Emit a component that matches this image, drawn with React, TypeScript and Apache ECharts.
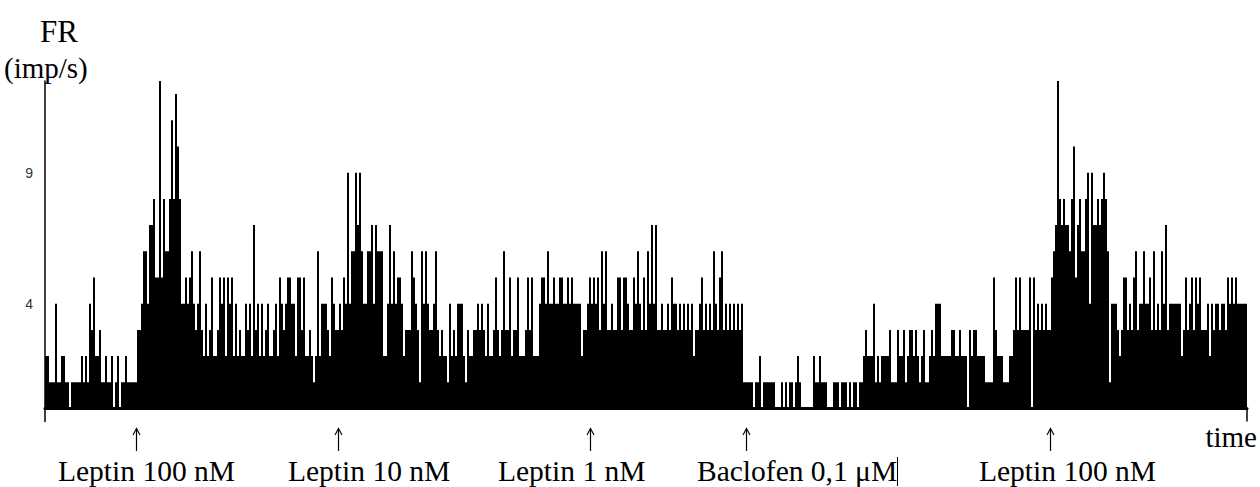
import React, { useEffect, useRef } from "react";
import * as echarts from "echarts";

// Firing rate (imp/s) per time bin, epoch by epoch.
const baseline = [
  2, 2, 1, 1, 1, 4, 1, 1, 2, 2,
  1, 1, 0, 1, 1, 1, 1, 1, 2, 1,
  2, 1, 4, 3, 5, 2, 2, 3, 1, 1,
  2, 1, 1, 2, 0, 1, 2, 0, 1, 1,
  2, 1, 1, 1, 1, 1,
];
const leptin100Peak = [
  3, 3, 4, 6, 6, 4, 7, 7, 8, 5,
  5, 12.5, 5, 8, 6, 6, 8, 11, 8, 12,
  10, 8, 4, 4, 5, 4, 5,
];
const leptin100Plateau = [
  6, 4, 3, 4, 6, 3, 2, 4, 2, 3,
  5, 2, 2, 3, 5, 4, 5, 2, 5, 4,
  5, 2, 4, 2, 3, 2, 2, 4, 3, 4,
  2, 7, 3, 4, 2, 4, 2, 3, 4, 2,
  2, 3, 4, 2, 5, 4, 3, 4, 5, 5,
  4, 4, 2, 5, 5, 3, 5, 2, 2, 3,
  2, 1, 2, 6, 2, 4, 4, 4, 3, 2,
];
const leptin10 = [
  5, 4, 3, 3, 4, 3, 5, 4, 9, 4,
  6, 6, 9, 7, 9, 6, 4, 4, 6, 6,
  7, 4, 7, 6, 6, 6, 2, 2, 4, 7,
  4, 6, 4, 5, 5, 4, 2, 3, 3, 3,
  6, 5, 4, 3, 1,
];
const leptin1 = [
  6, 4, 6, 4, 3, 3, 4, 6, 3, 2,
  3, 2, 2, 1, 4, 2, 3, 2, 4, 4,
  4, 2, 1, 3, 2, 2, 3, 3, 4, 3,
  4, 3, 2, 4, 2, 2, 3, 5, 3, 2,
  3, 6, 3, 3, 5, 2, 3, 3, 5, 2,
  2, 2, 3, 5, 3, 5, 2, 2, 2, 4,
  5, 5, 4, 6, 4, 4, 5, 4, 4, 5,
  5, 4, 4, 5, 4, 5, 4, 4, 4, 4,
  2, 3, 3, 4, 5, 4, 5, 4, 5, 3,
  6, 4, 6, 3, 3, 4, 3, 3, 5, 5,
  3, 5, 5, 4, 3, 3, 5, 4, 6, 4,
  3, 5, 3, 6, 4, 7, 4, 7, 3, 3,
  4, 3, 3, 4, 3, 5, 4, 4, 3, 4,
  3, 4, 3, 4, 3, 4, 2, 3, 3, 4,
  5, 3, 4, 3, 4, 3, 6, 4, 3, 5,
  6, 3, 4, 3, 4, 3, 4, 3, 4, 3,
  4, 1,
];
const baclofen = [
  1, 1, 1, 1, 0, 1, 1, 2, 0, 1,
  1, 1, 1, 1, 1, 0, 0, 0, 1, 0,
  1, 0, 1, 1, 0, 1, 2, 1, 0, 0,
  0, 0, 0, 0, 2, 1, 1, 2, 1, 1,
  1, 0, 0, 0, 1, 1, 1, 0, 1, 1,
  1, 0, 1, 0, 1, 1, 0, 1, 1,
];
const recovery = [
  2, 3, 2, 2, 2, 4, 1, 2, 1, 2,
  2, 2, 2, 3, 1, 1, 1, 3, 2, 2,
  3, 1, 2, 3, 3, 2, 3, 2, 1, 2,
  3, 1, 1, 2, 3, 2, 4, 4, 4, 2,
  2, 2, 2, 2, 3, 3, 2, 2, 3, 2,
  2, 2, 0, 3, 2, 3, 3, 2, 2, 2,
  2, 1, 1, 1, 1, 5, 3, 2, 2, 2,
  1, 1, 1, 2, 2, 3, 5, 3, 5, 3,
  3, 3, 3, 5, 0, 5, 3, 4, 3, 4,
  3, 4, 3, 3, 5,
];
const leptin100bPeak = [
  6, 7, 12.5, 8, 7, 8, 7, 7, 6, 8,
  10, 5, 7, 8, 6, 6, 8, 9, 4, 9,
  7, 7, 8, 7, 8, 9, 8, 6,
];
const leptin100bPlateau = [
  1, 4, 4, 4, 3, 2, 3, 5, 5, 3,
  4, 3, 5, 6, 3, 4, 4, 6, 4, 4,
  5, 3, 6, 3, 4, 3, 6, 4, 7, 3,
  4, 4, 4, 4, 4, 4, 2, 3, 5, 3,
  4, 5, 3, 5, 4, 5, 3, 3, 3, 4,
  2, 4, 3, 4, 4, 3, 4, 4, 3, 5,
  4, 5, 4, 5, 4, 4, 4, 4, 4,
];

const rates = [
  ...baseline,
  ...leptin100Peak,
  ...leptin100Plateau,
  ...leptin10,
  ...leptin1,
  ...baclofen,
  ...recovery,
  ...leptin100bPeak,
  ...leptin100bPlateau,
];
const bins = rates.map((_, i) => String(i));

const yTickLabels = [4, 9];

// Drug applications: name and time bin of the arrow
const events = [
  { name: "Leptin 100 nM", bin: 45 },
  { name: "Leptin 10 nM", bin: 146 },
  { name: "Leptin 1 nM", bin: 272 },
  { name: "Baclofen 0,1 μM", bin: 350 },
  { name: "Leptin 100 nM", bin: 502 },
];
// horizontal offset of each label's left edge from its arrow (layout only)
const labelOffsets = [-78, -50, -92, -49, -71];

const SERIF = '"Liberation Serif", "Times New Roman", serif';

export default function App() {
  const ref = useRef<HTMLDivElement>(null);

  useEffect(() => {
    if (!ref.current) return;
    const chart = echarts.init(ref.current, null, { renderer: "svg" });
    chart.setOption({
      animation: false,
      backgroundColor: "#ffffff",
      grid: { left: 45, right: 13, top: 81, bottom: 65.4, containLabel: false },
      xAxis: {
        type: "category",
        data: bins,
        boundaryGap: true,
        axisLine: { show: true, onZero: true, lineStyle: { color: "#000", width: 3 } },
        axisTick: { show: false },
        axisLabel: { show: false },
        splitLine: { show: false },
      },
      yAxis: {
        type: "value",
        min: -0.5,
        max: 12.5,
        interval: 0.5,
        axisLine: { show: true, lineStyle: { color: "#000", width: 1.5 } },
        axisTick: { show: false },
        splitLine: { show: false },
        axisLabel: {
          margin: 12,
          color: "#333",
          fontSize: 14,
          fontFamily: '"Liberation Sans", Arial, sans-serif',
          formatter: (v: number) => (yTickLabels.includes(v) ? String(v) : ""),
        },
      },
      series: [
        {
          type: "bar",
          data: rates,
          barCategoryGap: "0%",
          barGap: "0%",
          itemStyle: { color: "#000" },
          silent: true,
        },
      ],
    });

    const xs = events.map((e) => chart.convertToPixel({ xAxisIndex: 0 }, e.bin) as number);
    const zeroY = chart.convertToPixel({ yAxisIndex: 0 }, 0) as number;
    const bottomY = chart.convertToPixel({ yAxisIndex: 0 }, -0.5) as number;
    const lastX = chart.convertToPixel({ xAxisIndex: 0 }, rates.length - 1) as number;

    const graphics: any[] = [
      {
        type: "text",
        x: 40,
        y: 31,
        style: { text: "FR", font: `31px ${SERIF}`, fill: "#000", textAlign: "left", textVerticalAlign: "middle" },
      },
      {
        type: "text",
        x: 4,
        y: 68,
        style: { text: "(imp/s)", font: `29px ${SERIF}`, fill: "#000", textAlign: "left", textVerticalAlign: "middle" },
      },
      {
        type: "text",
        x: 1257,
        y: 437,
        style: { text: "time", font: `29px ${SERIF}`, fill: "#000", textAlign: "right", textVerticalAlign: "middle" },
      },
      {
        type: "line",
        shape: { x1: lastX + 1, y1: zeroY, x2: lastX + 1, y2: bottomY },
        style: { stroke: "#000", lineWidth: 1.5 },
      },
    ];
    events.forEach((e, i) => {
      const x = Math.round(xs[i]) + 0.5;
      graphics.push({
        type: "line",
        shape: { x1: x, y1: 429, x2: x, y2: 451 },
        style: { stroke: "#000", lineWidth: 1.2 },
      });
      graphics.push({
        type: "polyline",
        shape: { points: [[x - 3.5, 435], [x, 428.5], [x + 3.5, 435]] },
        style: { stroke: "#000", lineWidth: 1.1, fill: null },
      });
      graphics.push({
        type: "text",
        x: xs[i] + labelOffsets[i],
        y: 471,
        style: { text: e.name, font: `29.5px ${SERIF}`, fill: "#000", textAlign: "left", textVerticalAlign: "middle" },
      });
    });
    // the short vertical stroke after the Baclofen label
    graphics.push({
      type: "line",
      shape: { x1: 897.5, y1: 457, x2: 897.5, y2: 486 },
      style: { stroke: "#000", lineWidth: 1 },
    });
    chart.setOption({ graphic: graphics });

    return () => chart.dispose();
  }, []);

  return (
    <div
      ref={ref}
      style={{ position: "fixed", left: 0, top: 0, width: 1260, height: 487, background: "#fff" }}
    />
  );
}
